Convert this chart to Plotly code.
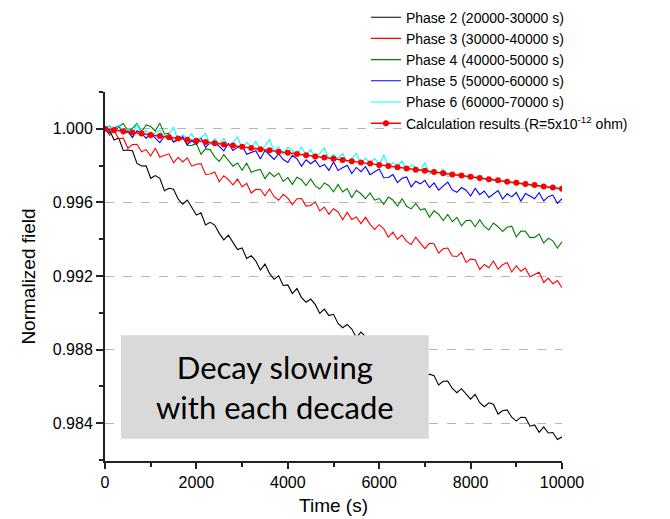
import plotly.graph_objects as go

# ---- data ----
time_meas = list(range(0, 10001, 100))
time_calc = list(range(0, 10001, 200))

phase2 = [1.00000, 0.99991, 0.99939, 0.99950, 0.99882, 0.99885, 0.99881, 0.99812, 0.99798, 0.99799,
          0.99731, 0.99746, 0.99731, 0.99664, 0.99677, 0.99672, 0.99619, 0.99590, 0.99613, 0.99570,
          0.99531, 0.99544, 0.99477, 0.99492, 0.99477, 0.99432, 0.99397, 0.99422, 0.99379, 0.99344,
          0.99353, 0.99295, 0.99310, 0.99282, 0.99233, 0.99265, 0.99214, 0.99182, 0.99201, 0.99149,
          0.99152, 0.99105, 0.99132, 0.99083, 0.99058, 0.99075, 0.99046, 0.98997, 0.99020, 0.98985,
          0.98992, 0.98942, 0.98919, 0.98937, 0.98912, 0.98866, 0.98895, 0.98871, 0.98830, 0.98854,
          0.98807, 0.98782, 0.98798, 0.98791, 0.98735, 0.98748, 0.98744, 0.98701, 0.98695, 0.98710,
          0.98650, 0.98667, 0.98659, 0.98608, 0.98628, 0.98629, 0.98589, 0.98566, 0.98588, 0.98559,
          0.98531, 0.98557, 0.98512, 0.98490, 0.98511, 0.98503, 0.98450, 0.98468, 0.98473, 0.98433,
          0.98412, 0.98433, 0.98431, 0.98384, 0.98391, 0.98351, 0.98380, 0.98347, 0.98350, 0.98312,
          0.98325]

phase3 = [1.00000, 0.99966, 0.99992, 0.99944, 0.99950, 0.99894, 0.99914, 0.99916, 0.99875, 0.99887,
          0.99852, 0.99894, 0.99847, 0.99856, 0.99864, 0.99815, 0.99845, 0.99820, 0.99842, 0.99797,
          0.99807, 0.99811, 0.99752, 0.99754, 0.99765, 0.99712, 0.99745, 0.99724, 0.99695, 0.99727,
          0.99684, 0.99704, 0.99651, 0.99671, 0.99670, 0.99636, 0.99673, 0.99631, 0.99612, 0.99644,
          0.99623, 0.99587, 0.99620, 0.99621, 0.99580, 0.99583, 0.99603, 0.99554, 0.99575, 0.99536,
          0.99566, 0.99548, 0.99506, 0.99546, 0.99507, 0.99521, 0.99485, 0.99519, 0.99481, 0.99453,
          0.99479, 0.99457, 0.99412, 0.99438, 0.99400, 0.99422, 0.99388, 0.99371, 0.99411, 0.99379,
          0.99349, 0.99378, 0.99376, 0.99325, 0.99348, 0.99352, 0.99309, 0.99306, 0.99329, 0.99274,
          0.99292, 0.99289, 0.99236, 0.99263, 0.99245, 0.99282, 0.99238, 0.99261, 0.99273, 0.99222,
          0.99255, 0.99226, 0.99243, 0.99196, 0.99207, 0.99220, 0.99165, 0.99189, 0.99158, 0.99175,
          0.99136]

phase4 = [1.00000, 1.00015, 0.99980, 1.00012, 1.00029, 0.99990, 1.00002, 1.00029, 0.99984, 1.00021,
          1.00012, 0.99988, 1.00031, 0.99972, 0.99976, 0.99927, 0.99948, 0.99954, 0.99909, 0.99910,
          0.99920, 0.99862, 0.99891, 0.99887, 0.99848, 0.99823, 0.99859, 0.99826, 0.99797, 0.99814,
          0.99775, 0.99813, 0.99764, 0.99773, 0.99779, 0.99729, 0.99763, 0.99740, 0.99760, 0.99714,
          0.99735, 0.99698, 0.99737, 0.99723, 0.99692, 0.99727, 0.99690, 0.99673, 0.99706, 0.99691,
          0.99658, 0.99698, 0.99657, 0.99675, 0.99626, 0.99666, 0.99647, 0.99620, 0.99652, 0.99613,
          0.99621, 0.99590, 0.99629, 0.99613, 0.99580, 0.99620, 0.99579, 0.99565, 0.99595, 0.99560,
          0.99566, 0.99520, 0.99554, 0.99536, 0.99501, 0.99535, 0.99495, 0.99519, 0.99473, 0.99501,
          0.99503, 0.99468, 0.99506, 0.99470, 0.99450, 0.99488, 0.99468, 0.99442, 0.99465, 0.99471,
          0.99412, 0.99444, 0.99443, 0.99409, 0.99410, 0.99428, 0.99379, 0.99405, 0.99391, 0.99352,
          0.99386]

phase5 = [1.00000, 0.99977, 1.00005, 1.00016, 0.99972, 0.99985, 0.99953, 0.99990, 0.99976, 0.99948,
          0.99981, 0.99949, 0.99925, 0.99960, 0.99962, 0.99929, 0.99939, 0.99958, 0.99914, 0.99935,
          0.99915, 0.99952, 0.99898, 0.99926, 0.99928, 0.99904, 0.99880, 0.99920, 0.99882, 0.99899,
          0.99911, 0.99862, 0.99872, 0.99881, 0.99836, 0.99882, 0.99859, 0.99834, 0.99864, 0.99833,
          0.99817, 0.99856, 0.99837, 0.99797, 0.99832, 0.99810, 0.99829, 0.99793, 0.99806, 0.99774,
          0.99821, 0.99774, 0.99789, 0.99802, 0.99757, 0.99790, 0.99767, 0.99794, 0.99751, 0.99766,
          0.99781, 0.99734, 0.99735, 0.99751, 0.99708, 0.99731, 0.99738, 0.99684, 0.99715, 0.99701,
          0.99720, 0.99680, 0.99706, 0.99667, 0.99691, 0.99710, 0.99668, 0.99655, 0.99681, 0.99666,
          0.99635, 0.99677, 0.99642, 0.99662, 0.99627, 0.99644, 0.99665, 0.99618, 0.99647, 0.99630,
          0.99654, 0.99607, 0.99648, 0.99635, 0.99620, 0.99653, 0.99608, 0.99631, 0.99640, 0.99595,
          0.99620]

phase6 = [1.00002, 1.00017, 0.99982, 1.00021, 0.99983, 1.00000, 0.99965, 1.00026, 0.99973, 0.99992,
          0.99949, 0.99981, 0.99990, 0.99953, 0.99968, 1.00009, 0.99938, 0.99967, 0.99947, 0.99972,
          0.99929, 0.99950, 0.99975, 0.99914, 0.99945, 0.99920, 0.99947, 0.99909, 0.99924, 0.99957,
          0.99894, 0.99927, 0.99900, 0.99931, 0.99884, 0.99904, 0.99943, 0.99879, 0.99902, 0.99861,
          0.99899, 0.99880, 0.99859, 0.99901, 0.99858, 0.99886, 0.99841, 0.99866, 0.99896, 0.99837,
          0.99860, 0.99838, 0.99865, 0.99820, 0.99839, 0.99866, 0.99806, 0.99841, 0.99814, 0.99839,
          0.99803, 0.99858, 0.99793, 0.99816, 0.99798, 0.99825, 0.99776, 0.99805, 0.99793, 0.99772,
          0.99816, 0.99755, 0.99780, 0.99758, 0.99781, 0.99741, 0.99750, 0.99747, 0.99743, 0.99740,
          0.99736, 0.99733, 0.99730, 0.99726, 0.99723, 0.99720, 0.99716, 0.99713, 0.99709, 0.99706,
          0.99703, 0.99699, 0.99696, 0.99693, 0.99689, 0.99686, 0.99682, 0.99679, 0.99676, 0.99672,
          0.99669]

calc = [1.00000, 0.99993, 0.99987, 0.99980, 0.99974, 0.99967, 0.99961, 0.99954, 0.99948, 0.99941,
        0.99935, 0.99928, 0.99922, 0.99915, 0.99909, 0.99902, 0.99896, 0.99889, 0.99883, 0.99876,
        0.99870, 0.99863, 0.99857, 0.99850, 0.99844, 0.99837, 0.99830, 0.99824, 0.99817, 0.99811,
        0.99804, 0.99798, 0.99791, 0.99785, 0.99778, 0.99772, 0.99765, 0.99759, 0.99752, 0.99746,
        0.99739, 0.99733, 0.99726, 0.99720, 0.99713, 0.99707, 0.99700, 0.99694, 0.99687, 0.99681,
        0.99674]

series_names = ["Phase 2 (20000-30000 s)", "Phase 3 (30000-40000 s)", "Phase 4 (40000-50000 s)",
                "Phase 5 (50000-60000 s)", "Phase 6 (60000-70000 s)"]
calc_name = "Calculation results (R=5x10<sup>-12</sup> ohm)"

y_tick_vals = [0.984, 0.988, 0.992, 0.996, 1.000]
y_tick_text = ["0.984", "0.988", "0.992", "0.996", "1.000"]
y_minor_vals = [0.982, 0.986, 0.990, 0.994, 0.998, 1.002]
x_tick_vals = [0, 2000, 4000, 6000, 8000, 10000]
x_tick_text = ["0", "2000", "4000", "6000", "8000", "10000"]

colors = ["#000000", "#ff0000", "#008000", "#0000ff", "#00ffff"]

fig = go.Figure()
for name, ys, col in zip(series_names, [phase2, phase3, phase4, phase5, phase6], colors):
    fig.add_trace(go.Scatter(x=time_meas, y=ys, mode="lines", name=name,
                             line=dict(color=col, width=1.1)))
fig.add_trace(go.Scatter(x=time_calc, y=calc, mode="lines+markers", name=calc_name,
                         line=dict(color="#ff0000", width=1.5),
                         marker=dict(color="#ff0000", size=6)))

font_family = "Arial, Liberation Sans, sans-serif"

fig.update_layout(
    width=670, height=519,
    margin=dict(l=105, r=108, t=92, b=58, autoexpand=False),
    paper_bgcolor="white", plot_bgcolor="white",
    font=dict(family=font_family, color="#000000", size=16),
    showlegend=True,
    legend=dict(x=0.571, y=1.245, xanchor="left", yanchor="top",
                font=dict(size=14, family=font_family),
                bgcolor="rgba(0,0,0,0)", borderwidth=0, tracegroupgap=0),
    xaxis=dict(range=[0, 10000], tickvals=x_tick_vals, ticktext=x_tick_text,
               ticks="outside", ticklen=6, tickwidth=1.5, tickcolor="#222",
               minor=dict(ticks="outside", ticklen=4, tickwidth=1.5, tickcolor="#222",
                          dtick=1000, showgrid=False),
               showline=True, linecolor="#222", linewidth=2,
               showgrid=False, zeroline=False,
               tickfont=dict(size=16),
               title=dict(text="Time (s)", font=dict(size=19), standoff=8)),
    yaxis=dict(range=[0.98195, 1.0020], tickvals=y_tick_vals, ticktext=y_tick_text,
               ticks="outside", ticklen=7, tickwidth=1.5, tickcolor="#222",
               minor=dict(ticks="outside", ticklen=4, tickwidth=1.5, tickcolor="#222",
                          tickvals=y_minor_vals, showgrid=False),
               showline=True, linecolor="#222", linewidth=2,
               showgrid=True, gridcolor="#b4b4b4", griddash="dash", gridwidth=1,
               zeroline=False,
               tickfont=dict(size=16),
               title=dict(text="Normalized field", font=dict(size=19), standoff=12)),
)

fig.add_shape(type="rect", xref="x", yref="y", x0=351, x1=7083, y0=0.98316, y1=0.98878,
              fillcolor="#d9d9d9", line=dict(width=0), layer="above")
fig.add_annotation(xref="x", yref="y", x=3717, y=0.98597,
                   text="Decay slowing<br>with each decade", showarrow=False,
                   font=dict(family="Lato, Open Sans, sans-serif", size=31, color="#000000"),
                   align="center")

# remove the browser's default 8px page margin so the figure sits at the window's corner
fig.write_html("out.html", config={"displayModeBar": False},
               post_script="document.body.style.margin='0';")
